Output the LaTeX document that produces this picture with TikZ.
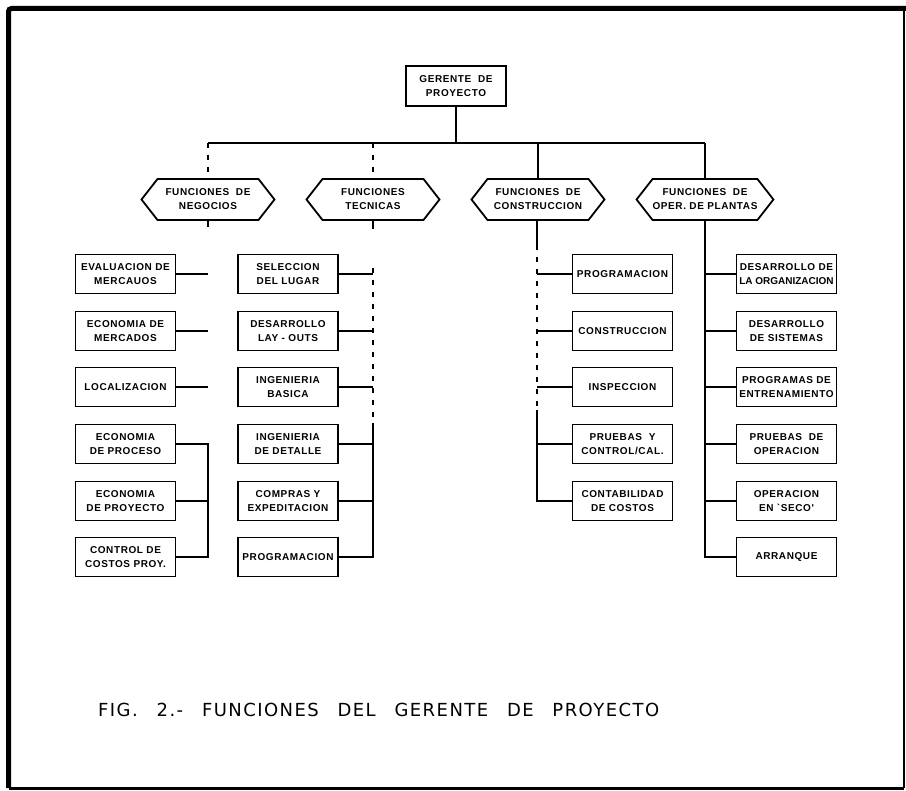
\documentclass[tikz,border=0pt]{standalone}
\usepackage{fontspec}
\newfontfamily\chartfont[LetterSpace=6]{Liberation Sans}
\newfontfamily\captionfont[LetterSpace=8]{DejaVu Sans}
\usetikzlibrary{shapes.symbols}

\begin{document}
\begin{tikzpicture}[x=1pt, y=-1pt,
        caja/.style={draw, line width=1.8pt, minimum width=100pt, minimum height=39pt,
            inner sep=0pt, align=center, font=\chartfont\bfseries\fontsize{10}{14}\selectfont},
        hexa/.style={draw, line width=1.8pt, signal, signal to=west and east,
            signal pointer angle=104, minimum width=133pt, minimum height=41pt,
            inner sep=0pt, align=center, font=\chartfont\bfseries\fontsize{10}{14}\selectfont},
        linea/.style={line width=1.8pt},
        borrosa/.style={line width=1.2pt, dash pattern=on 5pt off 7pt}]
            \useasboundingbox (0,0) rectangle (906,791);
            % marco
            \draw[line width=5pt, rounded corners=3pt] (8.5,788) -- (8.5,8.5) -- (906,8.5);
            \draw[line width=3pt] (8.5,788) -- (904,788);
            \draw[line width=1.2pt] (904,788) -- (904,8.5);

            % gerente
            \node[caja, minimum height=40pt] (gerente) at (456,86) {GERENTE\ \ DE\\PROYECTO};
            \coordinate (bus) at (456,143);
            \draw[linea] (gerente.south) -- (bus);

            % funciones
            \node[hexa] (negocios) at (208,199.5) {FUNCIONES\ \ DE\\NEGOCIOS};
            \node[hexa] (tecnicas) at (373,199.5) {FUNCIONES\\TECNICAS};
            \node[hexa] (construccion) at (538,199.5) {FUNCIONES\ \ DE\\CONSTRUCCION};
            \node[hexa] (operacion) at (705,199.5) {FUNCIONES\ \ DE\\OPER. DE PLANTAS};
            \draw[linea] (negocios.north |- bus) -- (operacion.north |- bus);
            \draw[borrosa] (negocios.north |- bus) -- (negocios.north);
            \draw[borrosa] (tecnicas.north |- bus) -- (tecnicas.north);
            \draw[linea] (construccion.north |- bus) -- (construccion.north);
            \draw[linea] (operacion.north |- bus) -- (operacion.north);

            % negocios
            \node[caja] (neg1) at (125.5,274) {EVALUACION DE\\MERCAUOS};
            \node[caja] (neg2) at (125.5,331) {ECONOMIA DE\\MERCADOS};
            \node[caja] (neg3) at (125.5,387) {LOCALIZACION};
            \node[caja] (neg4) at (125.5,444) {ECONOMIA\\DE PROCESO};
            \node[caja] (neg5) at (125.5,501) {ECONOMIA\\DE PROYECTO};
            \node[caja] (neg6) at (125.5,557) {CONTROL DE\\COSTOS PROY.};
            \coordinate (negA) at (208,227);
            \draw[linea] (negocios.south) -- (negA);
            \draw[linea] (neg1.east) -- (neg1.east -| negA);
            \draw[linea] (neg2.east) -- (neg2.east -| negA);
            \draw[linea] (neg3.east) -- (neg3.east -| negA);
            \draw[linea] (neg4.east) -- (neg4.east -| negA) -- (neg6.east -| negA) -- (neg6.east);
            \draw[linea] (neg5.east) -- (neg5.east -| negA);

            % tecnicas
            \node[caja] (tec1) at (288,274) {SELECCION\\DEL LUGAR};
            \node[caja] (tec2) at (288,331) {DESARROLLO\\LAY - OUTS};
            \node[caja] (tec3) at (288,387) {INGENIERIA\\BASICA};
            \node[caja] (tec4) at (288,444) {INGENIERIA\\DE DETALLE};
            \node[caja] (tec5) at (288,501) {COMPRAS Y\\EXPEDITACION};
            \node[caja] (tec6) at (288,557) {PROGRAMACION};
            \coordinate (tecA) at (373,229);
            \coordinate (tecB) at (373,268);
            \coordinate (tecC) at (373,423);
            \draw[linea] (tecnicas.south) -- (tecA);
            \draw[borrosa] (tecB) -- (tecC);
            \draw[linea] (tecC) -- (tec6.east -| tecC) -- (tec6.east);
            \draw[linea] (tec1.east) -- (tec1.east -| tecC);
            \draw[linea] (tec2.east) -- (tec2.east -| tecC);
            \draw[linea] (tec3.east) -- (tec3.east -| tecC);
            \draw[linea] (tec4.east) -- (tec4.east -| tecC);
            \draw[linea] (tec5.east) -- (tec5.east -| tecC);

            % construccion
            \node[caja] (con1) at (622.5,274) {PROGRAMACION};
            \node[caja] (con2) at (622.5,331) {CONSTRUCCION};
            \node[caja] (con3) at (622.5,387) {INSPECCION};
            \node[caja] (con4) at (622.5,444) {PRUEBAS\ \ Y\\CONTROL/CAL.};
            \node[caja] (con5) at (622.5,501) {CONTABILIDAD\\DE COSTOS};
            \coordinate (conA) at (537,245);
            \coordinate (conB) at (537,410);
            \draw[linea] (construccion.south -| conA) -- (conA);
            \draw[borrosa] (conA) -- (conB);
            \draw[linea] (conB) -- (con5.west -| conB) -- (con5.west);
            \draw[linea] (con1.west -| conB) -- (con1.west);
            \draw[linea] (con2.west -| conB) -- (con2.west);
            \draw[linea] (con3.west -| conB) -- (con3.west);
            \draw[linea] (con4.west -| conB) -- (con4.west);

            % operacion de plantas
            \node[caja] (ope1) at (786.5,274) {DESARROLLO DE\\{\addfontfeature{LetterSpace=0}LA ORGANIZACION}};
            \node[caja] (ope2) at (786.5,331) {DESARROLLO\\DE SISTEMAS};
            \node[caja] (ope3) at (786.5,387) {PROGRAMAS DE\\ENTRENAMIENTO};
            \node[caja] (ope4) at (786.5,444) {PRUEBAS\ \ DE\\OPERACION};
            \node[caja] (ope5) at (786.5,501) {OPERACION\\EN `SECO'};
            \node[caja] (ope6) at (786.5,557) {ARRANQUE};
            \draw[linea] (operacion.south) -- (ope6.west -| operacion.south) -- (ope6.west);
            \draw[linea] (ope1.west -| operacion.south) -- (ope1.west);
            \draw[linea] (ope2.west -| operacion.south) -- (ope2.west);
            \draw[linea] (ope3.west -| operacion.south) -- (ope3.west);
            \draw[linea] (ope4.west -| operacion.south) -- (ope4.west);
            \draw[linea] (ope5.west -| operacion.south) -- (ope5.west);

            % pie
            \node[anchor=west, inner sep=0pt, font=\captionfont\fontsize{18}{18}\selectfont] (pie) at (98,710)
                {\makebox[561pt][s]{FIG. 2.- FUNCIONES DEL GERENTE DE PROYECTO}};
        \end{tikzpicture}
\end{document}
